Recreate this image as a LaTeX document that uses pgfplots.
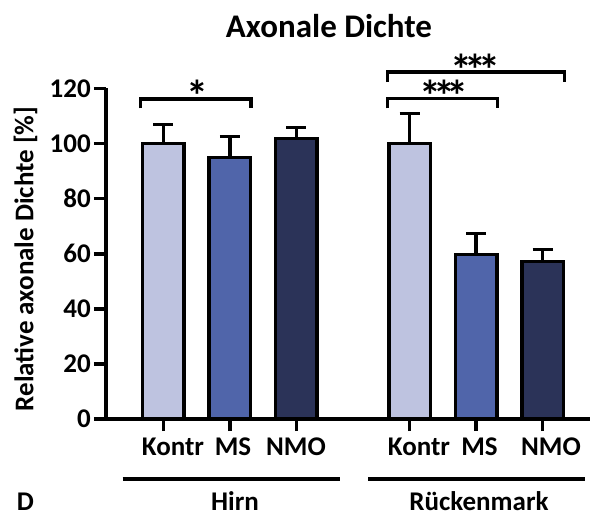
\documentclass[border=0pt]{standalone}
\usepackage{fontspec}
\setmainfont{Carlito}
\usepackage{pgfplots}
\pgfplotsset{compat=1.18}
\definecolor{cK}{RGB}{190,195,224}
\definecolor{cM}{RGB}{80,101,170}
\definecolor{cN}{RGB}{43,51,88}
\newcommand\lab{\fontsize{27}{27}\selectfont\bfseries}
\newcommand\ttl{\fontsize{33}{33}\selectfont\bfseries}
\newcommand\sta{\fontsize{44}{44}\selectfont\bfseries}
\newcommand\three{*\kern-8pt*\kern-8pt*}
\begin{document}
\begin{tikzpicture}
\begin{axis}[
  at={(0,0)}, anchor=south west,
  scale only axis, width=484pt, height=330.5pt,
  xmin=0.14, xmax=7.41, ymin=0, ymax=120,
  axis x line*=bottom, axis y line*=left,
  axis line style={line width=3.5pt, -},
  ytick={0,20,...,120},
  xtick={1,2,3,4.7,5.7,6.7}, xticklabels={},
  tick align=outside, major tick length=12pt,
  tick style={line width=3.5pt, black},
  yticklabel style={font=\lab, inner sep=0pt, xshift=-3pt},
  /pgf/number format/assume math mode=true,
  clip=false,
  ybar, bar width=41.5pt, bar shift=0pt,
]
\addplot[fill=cK, draw=black, line width=3.5pt,
  error bars/.cd, y dir=plus, y explicit, error mark=|,
  error bar style={line width=3.5pt, black},
  error mark options={line width=3.5pt, mark size=10pt, black}]
  coordinates {(1,100) +- (0,7.0) (4.7,100.1) +- (0,10.9)};
\addplot[fill=cM, draw=black, line width=3.5pt,
  error bars/.cd, y dir=plus, y explicit, error mark=|,
  error bar style={line width=3.5pt, black},
  error mark options={line width=3.5pt, mark size=10pt, black}]
  coordinates {(2,94.9) +- (0,7.6) (5.7,59.8) +- (0,7.5)};
\addplot[fill=cN, draw=black, line width=3.5pt,
  error bars/.cd, y dir=plus, y explicit, error mark=|,
  error bar style={line width=3.5pt, black},
  error mark options={line width=3.5pt, mark size=10pt, black}]
  coordinates {(3,101.9) +- (0,3.9) (6.7,57.1) +- (0,4.5)};
\draw[line width=3.5pt, line join=miter] (axis cs:0.66,112.8) -- (axis cs:0.66,116.2) -- (axis cs:2.32,116.2) -- (axis cs:2.32,112.8);
\draw[line width=3.5pt, line join=miter] (axis cs:4.37,112.8) -- (axis cs:4.37,116.3) -- (axis cs:6.02,116.3) -- (axis cs:6.02,112.8);
\draw[line width=3.5pt, line join=miter] (axis cs:4.37,122.3) -- (axis cs:4.37,126.0) -- (axis cs:7.03,126.0) -- (axis cs:7.03,122.3);
\end{axis}
% texts (positions in pt relative to axis lower-left corner)
\node[anchor=base, inner sep=0pt, font=\ttl] at (223pt,381.3pt) {Axonale Dichte};
\node[anchor=base, inner sep=0pt, font=\lab, rotate=90] at (-72.7pt,160pt) {Relative axonale Dichte [\%]};
\node[anchor=base, inner sep=0pt, font=\sta] at (91pt,307.5pt) {*};
\node[anchor=base, inner sep=0pt, font=\sta] at (338pt,307.5pt) {\three};
\node[anchor=base, inner sep=0pt, font=\sta] at (369.5pt,333pt) {\three};
\foreach \x/\t in {67/Kontr,127/MS,190/NMO,313/Kontr,373.5/MS,445/NMO}
  \node[anchor=base, inner sep=0pt, font=\lab] at (\x pt,-36pt) {\t};
\draw[line width=3.5pt] (16.7pt,-60pt) -- (234pt,-60pt);
\draw[line width=3.5pt] (262.3pt,-60pt) -- (479pt,-60pt);
\node[anchor=base, inner sep=0pt, font=\lab] at (129pt,-91pt) {Hirn};
\node[anchor=base, inner sep=0pt, font=\lab] at (373pt,-91pt) {Rückenmark};
\node[anchor=base west, inner sep=0pt, font=\lab] at (-89.3pt,-91pt) {D};
\pgfresetboundingbox
\useasboundingbox (-106pt,-98pt) rectangle (485pt,419pt);
\end{tikzpicture}
\end{document}
